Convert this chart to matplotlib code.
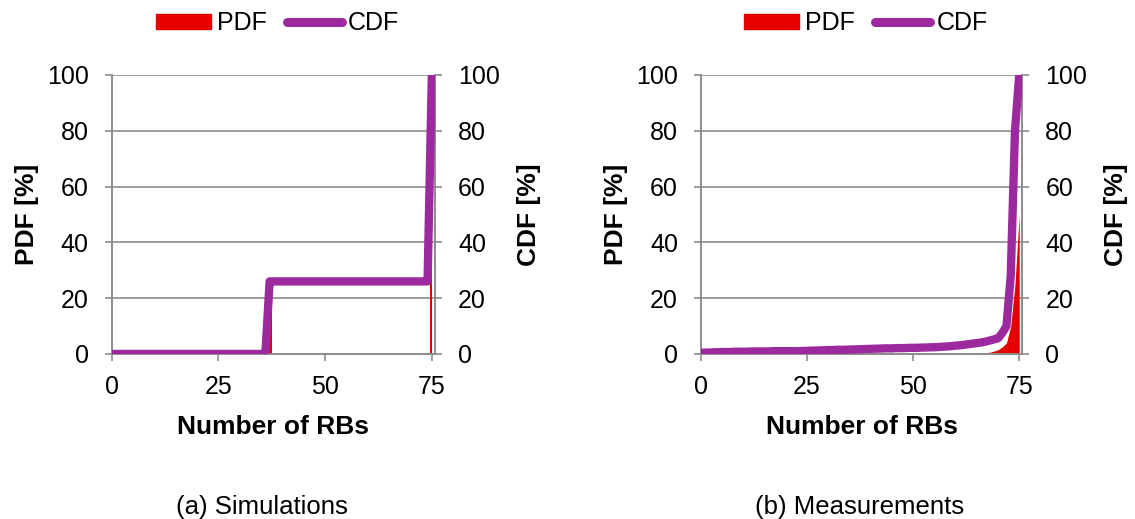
import numpy as np
import matplotlib.pyplot as plt
from matplotlib.patches import Patch
from matplotlib.lines import Line2D

plt.rcParams['font.family'] = ['Liberation Sans', 'DejaVu Sans']

# число RB (категории 0..75)
rbs = np.arange(0, 76)

# (a) симуляции
sim_pdf = np.zeros(76)
sim_pdf[37] = 26.0
sim_pdf[75] = 74.0
sim_cdf = np.zeros(76)
sim_cdf[37:75] = 26.0
sim_cdf[75] = 100.0

# (b) измерения
meas_cdf = np.array([
    0.4, 0.5, 0.5, 0.6, 0.6, 0.7, 0.7, 0.7, 0.8, 0.8,
    0.8, 0.8, 0.9, 0.9, 0.9, 0.9, 0.9, 1.0, 1.0, 1.0,
    1.0, 1.0, 1.0, 1.0, 1.1, 1.1, 1.2, 1.2, 1.3, 1.3,
    1.4, 1.4, 1.5, 1.5, 1.5, 1.6, 1.6, 1.7, 1.7, 1.8,
    1.8, 1.9, 1.9, 2.0, 2.0, 2.0, 2.1, 2.1, 2.1, 2.2,
    2.2, 2.2, 2.3, 2.3, 2.4, 2.4, 2.5, 2.6, 2.7, 2.8,
    3.0, 3.1, 3.3, 3.5, 3.7, 3.9, 4.1, 4.4, 4.8, 5.2,
    5.6, 7.5, 10.0, 28.0, 80.0, 100.0])
meas_pdf = np.zeros(76)
meas_pdf[66:76] = [0.3, 0.5, 0.6, 1.0, 1.5, 2.5, 4.0, 10.0, 25.0, 50.0]

red = '#e60000'
purple = '#9c2a9e'
grid_c = '#8c8c8c'


def draw(fig, rect, pdf, cdf, caption, cap_x, step):
    ax = fig.add_axes(rect)
    ax2 = ax.twinx()
    ax.fill_between(rbs, 0, pdf, step=step, color=red, lw=0, zorder=2)
    ax2.plot(rbs, cdf, color=purple, lw=6, solid_joinstyle='round',
             solid_capstyle='butt', zorder=3)
    for a in (ax, ax2):
        a.set_xlim(0, 75.75)
        a.set_ylim(0, 100)
        a.set_yticks(np.arange(0, 101, 20))
        a.spines['top'].set_visible(False)
        for s in ('left', 'right', 'bottom'):
            a.spines[s].set_color(grid_c)
            a.spines[s].set_linewidth(1.2)
        a.tick_params(colors=grid_c, labelcolor='black', labelsize=18,
                      length=5, width=1.2, pad=11.5)
    ax.tick_params(axis='x', pad=10)
    ax.set_xticks([0, 25, 50, 75])
    ax.yaxis.grid(True, color=grid_c, lw=1.2)
    ax.set_axisbelow(True)
    ax.set_xlabel('Number of RBs', fontsize=19, fontweight='bold', labelpad=12)
    ax.set_ylabel('PDF [%]', fontsize=19, fontweight='bold', labelpad=6)
    ax2.set_ylabel('CDF [%]', fontsize=19, fontweight='bold', labelpad=12)
    handles = [Patch(color=red, label='PDF'),
               Line2D([], [], color=purple, lw=6.5, solid_capstyle='round', label='CDF')]
    cx = rect[0] + rect[2] / 2 + 4 / 1135
    fig.legend(handles=handles, loc='center', bbox_to_anchor=(cx, 0.955),
               ncol=2, frameon=False, fontsize=18, handlelength=2.2,
               handleheight=0.56, handletextpad=0.25, columnspacing=0.8,
               borderaxespad=0, borderpad=0)
    fig.text(cap_x, 0.01, caption, ha='center', fontsize=18.5)
    return ax


fig = plt.figure(figsize=(11.35, 5.19), dpi=100)
draw(fig, [0.0984, 0.318, 0.2849, 0.5376], sim_pdf, sim_cdf,
     '(a) Simulations', 0.2304, 'mid')
draw(fig, [0.6176, 0.318, 0.2832, 0.5376], meas_pdf, meas_cdf,
     '(b) Measurements', 0.7577, None)
fig.savefig('out.png', dpi=100)
